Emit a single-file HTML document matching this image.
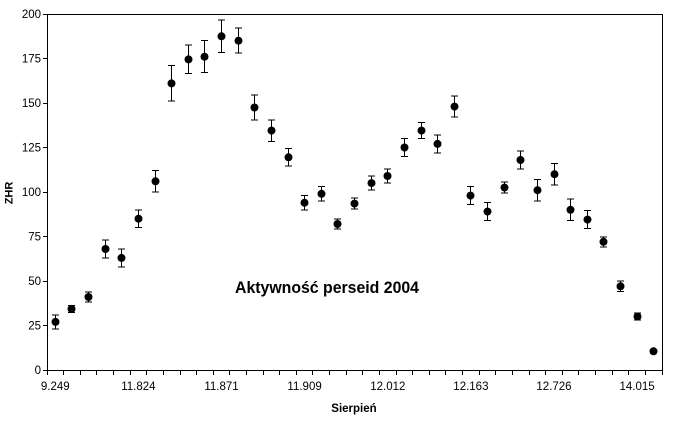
<!DOCTYPE html>
<html>
<head>
<meta charset="utf-8">
<style>
html,body{margin:0;padding:0;background:#fff;}
svg{display:block;}
text{font-family:"Liberation Sans",Arial,sans-serif;fill:#000;}
</style>
</head>
<body>
<svg width="678" height="421" viewBox="0 0 678 421" xmlns="http://www.w3.org/2000/svg">
<rect width="678" height="421" fill="#fff"/>
<g stroke="#000" stroke-width="1" fill="none" shape-rendering="crispEdges">
<path d="M47.5 14.5H662.5V370.5H47.5Z"/>
<path d="M43 370.5H47 M43 325.5H47 M43 281.5H47 M43 236.5H47 M43 192.5H47 M43 147.5H47 M43 103.5H47 M43 58.5H47 M43 14.5H47"/>
<path d="M47.5 370V375 M63.5 370V375 M80.5 370V375 M96.5 370V375 M113.5 370V375 M130.5 370V375 M146.5 370V375 M163.5 370V375 M180.5 370V375 M196.5 370V375 M213.5 370V375 M229.5 370V375 M246.5 370V375 M263.5 370V375 M279.5 370V375 M296.5 370V375 M312.5 370V375 M329.5 370V375 M346.5 370V375 M362.5 370V375 M379.5 370V375 M396.5 370V375 M412.5 370V375 M429.5 370V375 M445.5 370V375 M462.5 370V375 M479.5 370V375 M495.5 370V375 M512.5 370V375 M529.5 370V375 M545.5 370V375 M562.5 370V375 M578.5 370V375 M595.5 370V375 M612.5 370V375 M628.5 370V375 M645.5 370V375 M662.5 370V375"/>
</g>
<g font-size="11.5" text-anchor="end">
<text x="41" y="374">0</text>
<text x="41" y="329.5">25</text>
<text x="41" y="285">50</text>
<text x="41" y="240.5">75</text>
<text x="41" y="196">100</text>
<text x="41" y="151.5">125</text>
<text x="41" y="107">150</text>
<text x="41" y="62.5">175</text>
<text x="41" y="18">200</text>
</g>
<g font-size="11.5" text-anchor="middle">
<text x="55.3" y="390">9.249</text>
<text x="138.4" y="390">11.824</text>
<text x="221.5" y="390">11.871</text>
<text x="304.6" y="390">11.909</text>
<text x="387.8" y="390">12.012</text>
<text x="470.9" y="390">12.163</text>
<text x="554" y="390">12.726</text>
<text x="637.1" y="390">14.015</text>
</g>
<text x="354" y="412" font-size="11.5" font-weight="bold" text-anchor="middle">Sierpień</text>
<text transform="translate(12.5,193) rotate(-90)" font-size="11" font-weight="bold" text-anchor="middle">ZHR</text>
<text x="235" y="293" font-size="16.5" font-weight="bold" textLength="184" lengthAdjust="spacingAndGlyphs">Aktywność perseid 2004</text>
<g stroke="#000" stroke-width="1" fill="none" shape-rendering="crispEdges">
<path d="M55.5 314.8V329.1 M52 314.8H59 M52 329.1H59"/>
<path d="M71.5 305.4V312.5 M68 305.4H75 M68 312.5H75"/>
<path d="M88.5 292V302 M85 292H92 M85 302H92"/>
<path d="M105.5 240.1V257.9 M102 240.1H109 M102 257.9H109"/>
<path d="M121.5 249V266.8 M118 249H125 M118 266.8H125"/>
<path d="M138.5 209.8V227.6 M135 209.8H142 M135 227.6H142"/>
<path d="M155.5 170.6V192 M152 170.6H159 M152 192H159"/>
<path d="M171.5 65.6V101.2 M168 65.6H175 M168 101.2H175"/>
<path d="M188.5 45.2V73.6 M185 45.2H192 M185 73.6H192"/>
<path d="M204.5 40.7V72.7 M201 40.7H208 M201 72.7H208"/>
<path d="M221.5 20.2V52.3 M218 20.2H225 M218 52.3H225"/>
<path d="M238.5 28.2V53.2 M235 28.2H242 M235 53.2H242"/>
<path d="M254.5 95V119.9 M251 95H258 M251 119.9H258"/>
<path d="M271.5 119.9V141.3 M268 119.9H275 M268 141.3H275"/>
<path d="M288.5 148.4V166.2 M285 148.4H292 M285 166.2H292"/>
<path d="M304.5 195.6V209.8 M301 195.6H308 M301 209.8H308"/>
<path d="M321.5 186.7V200.9 M318 186.7H325 M318 200.9H325"/>
<path d="M337.5 219.1V229 M334 219.1H341 M334 229H341"/>
<path d="M354.5 198.2V208.9 M351 198.2H358 M351 208.9H358"/>
<path d="M371.5 176V190.2 M368 176H375 M368 190.2H375"/>
<path d="M387.5 168.9V183.1 M384 168.9H391 M384 183.1H391"/>
<path d="M404.5 138.6V156.4 M401 138.6H408 M401 156.4H408"/>
<path d="M421.5 122.6V138.6 M418 122.6H425 M418 138.6H425"/>
<path d="M437.5 135V152.8 M434 135H441 M434 152.8H441"/>
<path d="M454.5 95.9V117.2 M451 95.9H458 M451 117.2H458"/>
<path d="M470.5 186.7V204.5 M467 186.7H474 M467 204.5H474"/>
<path d="M487.5 202.7V220.5 M484 202.7H491 M484 220.5H491"/>
<path d="M504.5 182.2V192.9 M501 182.2H508 M501 192.9H508"/>
<path d="M520.5 151.1V168.9 M517 151.1H524 M517 168.9H524"/>
<path d="M537.5 179.5V200.9 M534 179.5H541 M534 200.9H541"/>
<path d="M554.5 163.5V184.9 M551 163.5H558 M551 184.9H558"/>
<path d="M570.5 199.1V220.5 M567 199.1H574 M567 220.5H574"/>
<path d="M587.5 210.7V228.5 M584 210.7H591 M584 228.5H591"/>
<path d="M603.5 236.9V246.8 M600 236.9H607 M600 246.8H607"/>
<path d="M620.5 281V291.7 M617 281H624 M617 291.7H624"/>
<path d="M637.5 313V320.2 M634 313H641 M634 320.2H641"/>
<path d="M653.5 349.5V353.1 M650 349.5H657 M650 353.1H657"/>
</g>
<g fill="#000">
<circle cx="55.5" cy="321.9" r="4"/>
<circle cx="71.5" cy="308.9" r="4"/>
<circle cx="88.5" cy="297" r="4"/>
<circle cx="105.5" cy="249" r="4"/>
<circle cx="121.5" cy="257.9" r="4"/>
<circle cx="138.5" cy="218.7" r="4"/>
<circle cx="155.5" cy="181.3" r="4"/>
<circle cx="171.5" cy="83.4" r="4"/>
<circle cx="188.5" cy="59.4" r="4"/>
<circle cx="204.5" cy="56.7" r="4"/>
<circle cx="221.5" cy="36.3" r="4"/>
<circle cx="238.5" cy="40.7" r="4"/>
<circle cx="254.5" cy="107.5" r="4"/>
<circle cx="271.5" cy="130.6" r="4"/>
<circle cx="288.5" cy="157.3" r="4"/>
<circle cx="304.5" cy="202.7" r="4"/>
<circle cx="321.5" cy="193.8" r="4"/>
<circle cx="337.5" cy="224" r="4"/>
<circle cx="354.5" cy="203.6" r="4"/>
<circle cx="371.5" cy="183.1" r="4"/>
<circle cx="387.5" cy="176" r="4"/>
<circle cx="404.5" cy="147.5" r="4"/>
<circle cx="421.5" cy="130.6" r="4"/>
<circle cx="437.5" cy="143.9" r="4"/>
<circle cx="454.5" cy="106.6" r="4"/>
<circle cx="470.5" cy="195.6" r="4"/>
<circle cx="487.5" cy="211.6" r="4"/>
<circle cx="504.5" cy="187.6" r="4"/>
<circle cx="520.5" cy="160" r="4"/>
<circle cx="537.5" cy="190.2" r="4"/>
<circle cx="554.5" cy="174.2" r="4"/>
<circle cx="570.5" cy="209.8" r="4"/>
<circle cx="587.5" cy="219.6" r="4"/>
<circle cx="603.5" cy="241.8" r="4"/>
<circle cx="620.5" cy="286.3" r="4"/>
<circle cx="637.5" cy="316.6" r="4"/>
<circle cx="653.5" cy="351.3" r="4"/>
</g>
</svg>
</body>
</html>
